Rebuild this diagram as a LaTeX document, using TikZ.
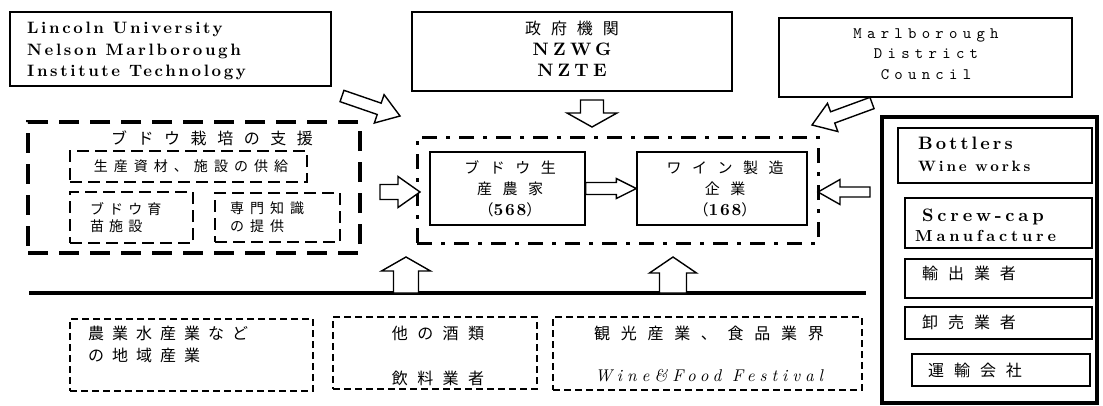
\documentclass[tikz,border=0pt]{standalone}
\usepackage{fontspec}
\newfontfamily\cjk{Noto Sans CJK JP}
\newfontfamily\lmb{lmroman10-bold.otf}
\newfontfamily\lmi{lmroman10-italic.otf}
\newfontfamily\lmm{lmmono10-regular.otf}
\usetikzlibrary{calc}
\newcommand\ls[2]{{\addfontfeature{LetterSpace=#1}#2}}
\newcommand\jp[2]{{\cjk\addfontfeature{LetterSpace=#1}#2}}
\newcommand\blockarrow[5]{%
  \path (#2) coordinate (bat) ($(#2)!#5!(#1)$) coordinate (bab);
  \draw[blk] ($(#1)!#3!90:(#2)$) -- ($(bab)!#3!90:(bat)$) -- ($(bab)!#4!90:(bat)$) -- (bat)
    -- ($(bab)!#4!-90:(bat)$) -- ($(bab)!#3!-90:(bat)$) -- ($(#1)!#3!-90:(#2)$) -- cycle;}
\tikzset{
  solidbox/.style={draw, line width=1.4pt, inner sep=0pt},
  bigdash/.style={draw, line width=3.5pt, dash pattern=on 20pt off 11pt, inner sep=0pt},
  smalldash/.style={draw, line width=2pt, dash pattern=on 12pt off 6pt, inner sep=0pt},
  dashdot/.style={draw, line width=3pt, dash pattern=on 15pt off 9pt on 4pt off 9pt, inner sep=0pt},
  botdash/.style={draw, line width=2pt, dash pattern=on 7pt off 4pt, inner sep=0pt},
  sidebox/.style={draw, line width=3.5pt, inner sep=0pt},
  blk/.style={draw, line width=1.4pt, fill=white, line join=miter},
  txt/.style={inner sep=0pt},
}
\begin{document}
\begin{tikzpicture}[x=1pt,y=-1pt]
\useasboundingbox[fill=white] (0,0) rectangle (1103,405);

% top boxes
\node[solidbox, minimum width=321pt, minimum height=74pt] (lu) at (170.5,49) {};
\node[txt, anchor=west, align=left, font=\lmb\fontsize{16.5}{21.5}\selectfont] (lut) at (27,51)
  {\ls{16}{Lincoln University}\\\ls{16}{Nelson Marlborough}\\\ls{16}{Institute Technology}};

\node[solidbox, minimum width=320pt, minimum height=79pt] (gov) at (572,51.5) {};
\node[txt, align=center, font=\lmb\fontsize{18}{21}\selectfont] (govt) at (572,49)
  {\jp{62}{\fontsize{16}{21}\selectfont 政府機関}\\\ls{24}{NZWG}\\\ls{23}{NZTE}};

\node[solidbox, minimum width=293pt, minimum height=79pt] (mdc) at (925.5,57.5) {};
\node[txt, align=center, font=\lmm\fontsize{16}{20.5}\selectfont] (mdct) at (926,54)
  {\ls{33}{Marlborough}\\\ls{33}{District}\\\ls{33}{Council}};

% support box
\node[bigdash, minimum width=332pt, minimum height=131pt] (sup) at (194,187.5) {};
\node[txt, font=\fontsize{16}{18}\selectfont] (supt) at (212,138) {\jp{66}{ブドウ栽培の支援}};
\node[smalldash, minimum width=237pt, minimum height=31pt] (s1) at (188.5,166.5) {};
\node[txt, font=\fontsize{14}{16}\selectfont] (s1t) at (191,166.5) {\jp{43}{生産資材、施設の供給}};
\node[smalldash, minimum width=123pt, minimum height=51pt] (s2) at (131.5,217.5) {};
\node[txt, anchor=west, align=left, font=\fontsize{14}{17}\selectfont] (s2t) at (90,217.5) {\jp{36}{ブドウ育}\\\jp{36}{苗施設}};
\node[smalldash, minimum width=125pt, minimum height=49pt] (s3) at (277.5,217.5) {};
\node[txt, anchor=west, align=left, font=\fontsize{14}{18}\selectfont] (s3t) at (230,217.5) {\jp{43}{専門知識}\\\jp{43}{の提供}};

% core box
\node[dashdot, minimum width=401pt, minimum height=106pt] (core) at (617.5,190) {};
\node[solidbox, minimum width=155pt, minimum height=73pt] (grow) at (507.5,188.5) {};
\node[txt, align=center, font=\fontsize{15}{21}\selectfont] (growt) at (510,189)
  {\jp{70}{ブドウ生}\\\jp{70}{産農家}\\{\cjk （}{\lmb\fontsize{17}{21}\selectfont\ls{10}{568}}{\cjk ）}};
\node[solidbox, minimum width=170pt, minimum height=73pt] (wine) at (722,188.5) {};
\node[txt, align=center, font=\fontsize{15}{21}\selectfont] (winet) at (725,189)
  {\jp{70}{ワイン製造}\\\jp{70}{企業}\\{\cjk （}{\lmb\fontsize{17}{21}\selectfont\ls{10}{168}}{\cjk ）}};

% side box
\node[sidebox, minimum width=215pt, minimum height=286pt] (side) at (989.5,260) {};
\node[solidbox, minimum width=194pt, minimum height=55pt] (bot) at (995,155.5) {};
\node[txt, anchor=west, align=left, font=\lmb\fontsize{18}{22}\selectfont] (bott) at (918,154)
  {\ls{17}{Bottlers}\\{\fontsize{15}{22}\selectfont\ls{19}{Wine works}}};
\node[solidbox, minimum width=187pt, minimum height=50pt] (scr) at (998.5,223) {};
\node[txt, anchor=west, align=left, font=\lmb\fontsize{18}{20}\selectfont] (scrt) at (915,225)
  {\hspace*{7pt}\ls{21}{Screw-cap}\\{\fontsize{16}{20}\selectfont\ls{24}{Manufacture}}};
\node[solidbox, minimum width=187pt, minimum height=39pt] (exp) at (998.5,278.5) {};
\node[txt, anchor=west, font=\fontsize{16}{18}\selectfont] (expt) at (922,273) {\jp{62}{輸出業者}};
\node[solidbox, minimum width=187pt, minimum height=32pt] (whs) at (998.5,323) {};
\node[txt, anchor=west, font=\fontsize{16}{18}\selectfont] (whst) at (922,322) {\jp{62}{卸売業者}};
\node[solidbox, minimum width=178pt, minimum height=32pt] (trn) at (1001,370) {};
\node[txt, anchor=west, font=\fontsize{16}{18}\selectfont] (trnt) at (928,370) {\jp{62}{運輸会社}};

% bottom
\coordinate (ln1) at (29,293);
\coordinate (ln2) at (866,293);
\draw[line width=4pt] (ln1) -- (ln2);
\node[botdash, minimum width=243pt, minimum height=72pt] (b1) at (191.5,355) {};
\node[txt, anchor=west, align=left, font=\fontsize{16}{22}\selectfont] (b1t) at (88,344) {\jp{50}{農業水産業など}\\\jp{50}{の地域産業}};
\node[botdash, minimum width=204pt, minimum height=72pt] (b2) at (435,353) {};
\node[txt, align=center, font=\fontsize{16}{45}\selectfont] (b2t) at (438,355.5) {\jp{59}{他の酒類}\\\jp{59}{飲料業者}};
\node[botdash, minimum width=309pt, minimum height=73pt] (b3) at (707.5,353.5) {};
\node[txt, align=center, font=\fontsize{16}{42}\selectfont] (b3t) at (709,354)
  {\jp{67}{観光産業、食品業界}\\{\lmi\fontsize{17}{42}\selectfont\ls{29}{Wine\&Food Festival}}};

% block arrows
\coordinate (a1s) at (342,96);  \coordinate (a1e) at (400,116);
\coordinate (a2s) at (872,103); \coordinate (a2e) at (812,125);
\coordinate (a3s) at (592,100); \coordinate (a3e) at (592,127);
\coordinate (a4s) at (380,192); \coordinate (a4e) at (420,192);
\coordinate (a5s) at (grow.east); \coordinate (a5e) at (wine.west);
\coordinate (a6s) at (870,192); \coordinate (a6e) at (818,192);
\coordinate (a7s) at (406,293); \coordinate (a7e) at (406,257);
\coordinate (a8s) at (673,293); \coordinate (a8e) at (673,257);
\blockarrow{a1s}{a1e}{6pt}{15pt}{22pt}
\blockarrow{a2s}{a2e}{6pt}{15pt}{22pt}
\blockarrow{a3s}{a3e}{11.5pt}{25pt}{14pt}
\blockarrow{a4s}{a4e}{7.5pt}{15.5pt}{22pt}
\blockarrow{a5s}{a5e}{6pt}{10pt}{20pt}
\blockarrow{a6s}{a6e}{5pt}{12.5pt}{22pt}
\blockarrow{a7s}{a7e}{12.5pt}{24.5pt}{14pt}
\blockarrow{a8s}{a8e}{13.5pt}{23.5pt}{16pt}
\end{tikzpicture}
\end{document}
